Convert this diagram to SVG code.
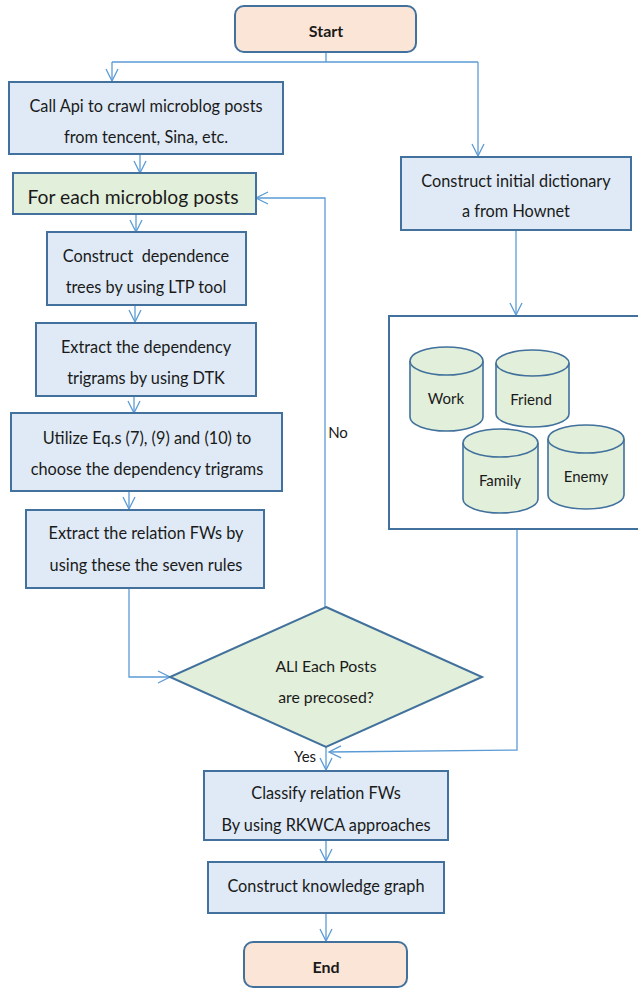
<svg xmlns="http://www.w3.org/2000/svg" width="638" height="988" viewBox="0 0 638 988">
<defs>
<marker id="arr" markerUnits="userSpaceOnUse" markerWidth="14" markerHeight="14" viewBox="0 0 14 14" refX="13" refY="7" orient="auto">
<path d="M1,1 L13,7 L1,13" fill="none" stroke="#5b9bd5" stroke-width="1.3"/>
</marker>
<style>
.box{fill:#dfeaf6;stroke:#41719c;stroke-width:2}
.grn{fill:#e2efda;stroke:#41719c;stroke-width:2}
.term{fill:#fbe5d6;stroke:#41719c;stroke-width:2}
.cyl{fill:#e2efda;stroke:#41719c;stroke-width:1.6}
.cont{fill:#ffffff;stroke:#41719c;stroke-width:2}
.ln{fill:none;stroke:#5b9bd5;stroke-width:1.3}
text{font-family:Lato,"Open Sans","Liberation Sans",sans-serif;font-size:16.3px;fill:#1a1a1a;text-anchor:middle}
.b{font-weight:bold;font-size:16px}
.big{font-size:19.3px}
.sm{font-size:15px}
.dm{font-size:15.8px}
.pre{white-space:pre}
</style>
</defs>
<rect width="638" height="988" fill="#ffffff"/>
<g id="connectors">
<path class="ln" d="M326,52 V62 M112,62 H478"/>
<path class="ln" d="M112,62 V81" marker-end="url(#arr)"/>
<path class="ln" d="M478,62 V156" marker-end="url(#arr)"/>
<path class="ln" d="M140,154 V173" marker-end="url(#arr)"/>
<path class="ln" d="M136,214 V232" marker-end="url(#arr)"/>
<path class="ln" d="M135,305 V322" marker-end="url(#arr)"/>
<path class="ln" d="M134,396 V413" marker-end="url(#arr)"/>
<path class="ln" d="M129,491 V509" marker-end="url(#arr)"/>
<path class="ln" d="M516,230 V315" marker-end="url(#arr)"/>
<path class="ln" d="M129,588 V677 H170" marker-end="url(#arr)"/>
<path class="ln" d="M325,607 V198 H256" marker-end="url(#arr)"/>
<path class="ln" d="M517,529 V750 L329,752" marker-end="url(#arr)"/>
<path class="ln" d="M326,747 V770" marker-end="url(#arr)"/>
<path class="ln" d="M326,840 V861" marker-end="url(#arr)"/>
<path class="ln" d="M326,913 V941" marker-end="url(#arr)"/>
</g>
<g id="start"><rect class="term" x="235" y="6" width="181" height="46" rx="9"/><text class="b" x="326" y="37">Start</text></g>
<g id="crawl"><rect class="box" x="9" y="82" width="274" height="72"/><text x="146" y="112">Call Api to crawl microblog posts</text><text x="146" y="143">from tencent, Sina, etc.</text></g>
<g id="foreach"><rect class="grn" x="13" y="173" width="243" height="41"/><text class="big" x="133" y="204">For each microblog posts</text></g>
<g id="dictionary"><rect class="box" x="401" y="157" width="230" height="73"/><text x="516" y="187">Construct initial dictionary</text><text x="516" y="217">a from Hownet</text></g>
<g id="trees"><rect class="box" x="47" y="232" width="199" height="73"/><text class="pre" xml:space="preserve" x="146" y="262">Construct  dependence</text><text x="146" y="293">trees by using LTP tool</text></g>
<g id="extract"><rect class="box" x="36" y="323" width="220" height="73"/><text x="146" y="353">Extract the dependency</text><text x="146" y="384">trigrams by using DTK</text></g>
<g id="utilize"><rect class="box" x="11" y="413" width="271" height="78"/><text x="147" y="444">Utilize Eq.s (7), (9) and (10) to</text><text x="147" y="475">choose the dependency trigrams</text></g>
<g id="relation"><rect class="box" x="26" y="510" width="238" height="78"/><text x="146" y="539">Extract the relation FWs by</text><text x="146" y="571">using these the seven rules</text></g>
<g id="categories">
<rect class="cont" x="389" y="316" width="250" height="213"/>
<g id="work"><path class="cyl" d="M410,361 A36.5,14 0 0 1 483,361 V417 A36.5,14 0 0 1 410,417 Z"/><path class="cyl" d="M410,361 A36.5,14 0 0 0 483,361" fill="none"/><text class="sm" x="446" y="404">Work</text></g>
<g id="friend"><path class="cyl" d="M496,363 A36.5,13 0 0 1 569,363 V414 A36.5,13 0 0 1 496,414 Z"/><path class="cyl" d="M496,363 A36.5,13 0 0 0 569,363" fill="none"/><text class="sm" x="531" y="405">Friend</text></g>
<g id="family"><path class="cyl" d="M463,443 A37.5,14 0 0 1 538,443 V499 A37.5,14 0 0 1 463,499 Z"/><path class="cyl" d="M463,443 A37.5,14 0 0 0 538,443" fill="none"/><text class="sm" x="500" y="486">Family</text></g>
<g id="enemy"><path class="cyl" d="M548,439 A38,14 0 0 1 624,439 V495 A38,14 0 0 1 548,495 Z"/><path class="cyl" d="M548,439 A38,14 0 0 0 624,439" fill="none"/><text class="sm" x="586" y="482">Enemy</text></g>
</g>
<g id="decision"><polygon class="grn" points="326,607 482,677 326,747 170,677"/><text class="dm" x="326" y="672">ALl Each Posts</text><text class="dm" x="326" y="703">are precosed?</text></g>
<g id="labels"><text class="sm" x="338" y="438">No</text><text class="sm" x="305" y="762">Yes</text></g>
<g id="classify"><rect class="box" x="204" y="771" width="244" height="69"/><text x="326" y="799">Classify relation FWs</text><text x="326" y="831">By using RKWCA approaches</text></g>
<g id="graph"><rect class="box" x="208" y="862" width="236" height="51"/><text x="326" y="892">Construct knowledge graph</text></g>
<g id="end"><rect class="term" x="244" y="942" width="163" height="45" rx="9"/><text class="b" x="326" y="973">End</text></g>
</svg>
